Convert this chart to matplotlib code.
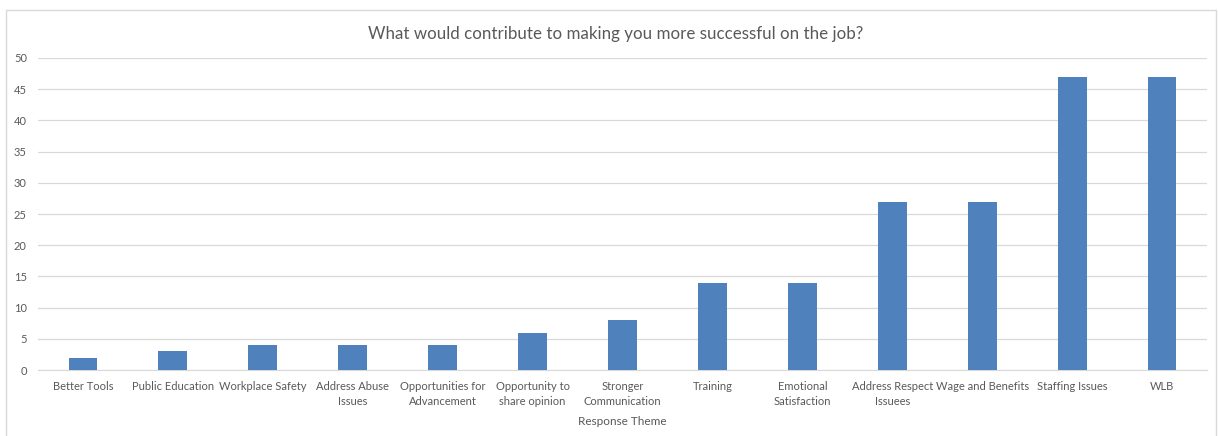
import matplotlib.pyplot as plt
from matplotlib.patches import Rectangle

# Data
themes = ["Better Tools", "Public Education", "Workplace Safety", "Address Abuse\nIssues",
          "Opportunities for\nAdvancement", "Opportunity to\nshare opinion", "Stronger\nCommunication",
          "Training", "Emotional\nSatisfaction", "Address Respect\nIssuees", "Wage and Benefits",
          "Staffing Issues", "WLB"]
counts = [2, 3, 4, 4, 4, 6, 8, 14, 14, 27, 27, 47, 47]
yticks = [0, 5, 10, 15, 20, 25, 30, 35, 40, 45, 50]

plt.rcParams['font.family'] = ['Lato', 'DejaVu Sans']

fig = plt.figure(figsize=(12.18, 4.36), dpi=100)
ax = fig.add_axes([38 / 1218, 1 - 370 / 436, (1207 - 38) / 1218, (370 - 58) / 436])

ax.bar(range(len(themes)), counts, width=0.32, color="#4F81BD", zorder=3)

ax.set_xlim(-0.5, len(themes) - 0.5)
ax.set_ylim(0, 50)
ax.set_yticks(yticks)
ax.set_xticks(range(len(themes)))
ax.set_xticklabels(themes, fontsize=8, color="#595959", linespacing=1.4)
ax.tick_params(axis="y", labelsize=8, labelcolor="#595959", length=0, pad=8)
ax.tick_params(axis="x", length=0, pad=8)
ax.grid(axis="y", color="#D9D9D9", linewidth=0.9, zorder=0)
for s in ["top", "right", "left"]:
    ax.spines[s].set_visible(False)
ax.spines["bottom"].set_color("#D9D9D9")

ax.set_xlabel("Response Theme", fontsize=8.5, color="#595959", labelpad=6.5)
fig.text(616 / 1218, 1 - 34 / 436, "What would contribute to making you more successful on the job?",
         ha="center", va="center", fontsize=12.2, color="#595959")

# chart border
fig.patches.append(Rectangle((6 / 1218, -0.02), (1216 - 6) / 1218, 1 - 10 / 436 + 0.02,
                             transform=fig.transFigure, fill=False, edgecolor="#D9D9D9",
                             linewidth=1))

fig.savefig("out.png", dpi=100)
